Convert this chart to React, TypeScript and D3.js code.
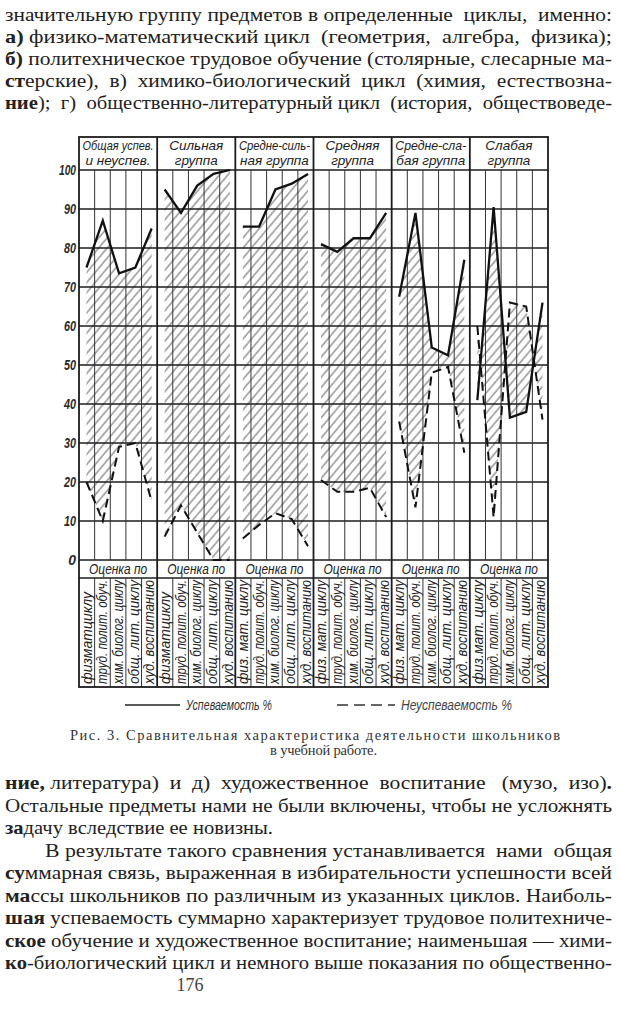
import React, { useLayoutEffect, useRef } from "react";
import * as d3 from "d3";

// ---------- DATA ----------
const groupTitles: string[][] = [
  ["Общая успев.", "и неуспев."],
  ["Сильная", "группа"],
  ["Средне-силь-", "ная группа"],
  ["Средняя", "группа"],
  ["Средне-сла-", "бая группа"],
  ["Слабая", "группа"],
];
const firstSubject = ["физматциклу", "физматциклу", "физ. мат. циклу", "физ. мат. циклу", "физ. мат. циклу", "физ.мат. циклу"];
const otherSubjects = ["труд. полит. обуч.", "хим. биолог. циклу", "общ. лит. циклу", "худ. воспитанию"];
const subgroupLabel = "Оценка по";

// Успеваемость % (solid)
const successG1 = [75, 87, 73.5, 75, 85];
const successG2 = [95, 89, 96, 99, 100];
const successG3 = [85.5, 85.5, 95, 96.5, 99];
const successG4 = [81, 79, 82.5, 82.5, 89];
const successG5 = [67.5, 89, 54.5, 52.5, 77];
const successG6 = [41, 90.5, 36.5, 38, 66];
// Неуспеваемость % (dashed)
const failureG1 = [20, 10, 29, 30, 15];
const failureG2 = [6, 14, 7, 0, 0];
const failureG3 = [5.5, 9, 12, 10.5, 3.5];
const failureG4 = [20.5, 17.5, 17.5, 18.5, 11];
const failureG5 = [35.5, 13.5, 48, 49.5, 27.5];
const failureG6 = [60, 11, 66, 65, 36];

const success = [successG1, successG2, successG3, successG4, successG5, successG6];
const failure = [failureG1, failureG2, failureG3, failureG4, failureG5, failureG6];

const yTicks = [0, 10, 20, 30, 40, 50, 60, 70, 80, 90, 100];
const legendSuccess = "Успеваемость %";
const legendFailure = "Неуспеваемость %";
const captionLine1 = "Рис. 3. Сравнительная характеристика деятельности школьников";
const captionLine2 = "в учебной работе.";

const textTop = [
  "значительную группу предметов в определенные  циклы,  именно:",
  "**а)** физико-математический цикл  (геометрия,  алгебра,  физика);",
  "**б)** политехническое трудовое обучение (столярные, слесарные ма-",
  "**ст**ерские),  в)  химико-биологический  цикл  (химия,  естествозна-",
  "**ние**);  г)  общественно-литературный цикл  (история,  обществоведе-",
];
const textBottom = [
  "**ние,** литература)  и  д)  художественное  воспитание   (музо,  изо)**.**",
  "Остальные предметы нами не были включены, чтобы не усложнять",
  "**за**дачу вследствие ее новизны.",
  "В результате такого сравнения устанавливается  нами  общая",
  "**су**ммарная связь, выраженная в избирательности успешности всей",
  "**ма**ссы школьников по различным из указанных циклов. Наиболь-",
  "**шая** успеваемость суммарно характеризует трудовое политехниче-",
  "**ское** обучение и художественное воспитание; наименьшая — хими-",
  "**ко**-биологический цикл и немного выше показания по общественно-",
];
const pageNumber = "176";

// ---------- LAYOUT ----------
const W = 620;
const H = 1011;
const L = 79, R = 548;
const headerTop = 137, plotTop = 170, plotBottom = 560, ocenkaBottom = 578, boxBottom = 687;
const ink = "#1c1c1c";
const serif = "'Liberation Serif','DejaVu Serif',serif";
const sans = "'Liberation Sans','Roboto',sans-serif";

function parseBold(s: string) {
  const out: { t: string; b: boolean }[] = [];
  const re = /\*\*(.+?)\*\*/g;
  let last = 0;
  let m: RegExpExecArray | null;
  while ((m = re.exec(s))) {
    if (m.index > last) out.push({ t: s.slice(last, m.index), b: false });
    out.push({ t: m[1], b: true });
    last = m.index + m[0].length;
  }
  if (last < s.length) out.push({ t: s.slice(last), b: false });
  return out;
}

function TextLine({ x, y, s, width, size = 19 }: { x: number; y: number; s: string; width?: number; size?: number }) {
  const parts = parseBold(s);
  return (
    <text
      x={x}
      y={y}
      fontFamily={serif}
      fontSize={size}
      fill="#222"
      textLength={width}
      lengthAdjust={width ? "spacingAndGlyphs" : undefined}
      style={{ whiteSpace: "pre" }}
    >
      {parts.map((p, i) => (
        <tspan key={i} fontWeight={p.b ? 700 : 400}>
          {p.t}
        </tspan>
      ))}
    </text>
  );
}

export default function App() {
  const ref = useRef<SVGSVGElement>(null);

  // Compress italic lettering that would be wider than the reference's narrow type
  useLayoutEffect(() => {
    const svg = ref.current;
    if (!svg) return;
    svg.querySelectorAll<SVGTextElement>("text[data-maxw]").forEach((el) => {
      const maxw = +(el.getAttribute("data-maxw") || 0);
      const w = el.getComputedTextLength();
      if (w > maxw) {
        el.setAttribute("textLength", String(maxw));
        el.setAttribute("lengthAdjust", "spacingAndGlyphs");
      }
    });
  }, []);

  const y = d3.scaleLinear().domain([0, 100]).range([plotBottom, plotTop]);
  const gx = d3.scaleBand<number>().domain(d3.range(6)).range([L, R]);
  const bw = gx.bandwidth();
  const cx = d3.scaleBand<number>().domain(d3.range(5)).range([0, bw]);
  const px = d3.scalePoint<number>().domain(d3.range(5)).range([7.5, bw - 5.5]);

  const line = (g: number) =>
    d3
      .line<number>()
      .x((_, i) => (gx(g) as number) + (px(i) as number))
      .y((v) => y(v));
  const area = (g: number) =>
    d3
      .area<number>()
      .x((_, i) => (gx(g) as number) + (px(i) as number))
      .y0((_, i) => y(failure[g][i]))
      .y1((v) => y(v));

  const topBaselines = textTop.map((_, i) => 21 + i * 22);
  const bottomBaselines = textBottom.map((_, i) => 789 + i * 22.5);
  const justified = [true, true, false, true, true, true, true, true, true];

  return (
    <svg
      ref={ref}
      width={W}
      height={H}
      viewBox={`0 0 ${W} ${H}`}
      style={{ position: "absolute", left: 0, top: 0, display: "block", background: "#fff" }}
    >
      <defs>
        <pattern id="hatch" patternUnits="userSpaceOnUse" width={6.5} height={10} patternTransform="rotate(40)">
          <line x1={1} y1={0} x2={1} y2={10} stroke="#4a4a4a" strokeWidth={0.9} />
        </pattern>
      </defs>
      <rect x={0} y={0} width={W} height={H} fill="#fff" />

      {/* top text */}
      {textTop.map((s, i) => (
        <TextLine key={i} x={5} y={topBaselines[i]} s={s} width={607} />
      ))}

      {/* hatched areas */}
      {success.map((vals, g) => (
        <path key={"a" + g} d={area(g)(vals) as string} fill="url(#hatch)" stroke="none" />
      ))}

      {/* grid: horizontal */}
      {yTicks.map((t) => (
        <line key={"h" + t} x1={L} x2={R} y1={y(t)} y2={y(t)} stroke={ink} strokeWidth={t === 0 || t === 100 ? 1.7 : 1.3} />
      ))}
      <line x1={L} x2={R} y1={ocenkaBottom} y2={ocenkaBottom} stroke={ink} strokeWidth={1.3} />

      {/* grid: column lines */}
      {d3.range(6).map((g) =>
        d3.range(1, 5).map((c) => {
          const x = (gx(g) as number) + (cx(c) as number);
          return (
            <g key={"c" + g + "-" + c}>
              <line x1={x} x2={x} y1={plotTop} y2={plotBottom} stroke="#333" strokeWidth={1} />
              <line x1={x} x2={x} y1={ocenkaBottom} y2={boxBottom} stroke="#333" strokeWidth={1} />
            </g>
          );
        })
      )}
      {/* group dividers */}
      {d3.range(1, 6).map((g) => {
        const x = gx(g) as number;
        return <line key={"g" + g} x1={x} x2={x} y1={headerTop} y2={boxBottom} stroke={ink} strokeWidth={1.8} />;
      })}
      <rect x={L} y={headerTop} width={R - L} height={boxBottom - headerTop} fill="none" stroke={ink} strokeWidth={1.8} />

      {/* y labels */}
      {yTicks.map((t) => (
        <text
          key={"yl" + t}
          x={76}
          y={y(t)}
          dy="0.36em"
          textAnchor="end"
          fontFamily={sans}
          fontStyle="italic"
          fontWeight={700}
          fontSize={14}
          fill="#2a2a2a"
          data-maxw={t === 100 ? 17 : 12}
        >
          {t}
        </text>
      ))}

      {/* headers */}
      {groupTitles.map((lines, g) => (
        <g key={"ht" + g}>
          {lines.map((s, k) => (
            <text
              key={k}
              x={(gx(g) as number) + bw / 2}
              y={150 + k * 15}
              textAnchor="middle"
              fontFamily={sans}
              fontStyle="italic"
              fontSize={13.5}
              fill="#222"
              data-maxw={71}
            >
              {s}
            </text>
          ))}
        </g>
      ))}

      {/* "Оценка по" */}
      {d3.range(6).map((g) => (
        <text
          key={"oc" + g}
          x={(gx(g) as number) + bw / 2}
          y={574}
          textAnchor="middle"
          fontFamily={sans}
          fontStyle="italic"
          fontSize={14}
          fill="#222"
          data-maxw={58}
        >
          {subgroupLabel}
        </text>
      ))}

      {/* rotated subject labels */}
      {d3.range(6).map((g) =>
        [firstSubject[g], ...otherSubjects].map((s, c) => {
          const x = (gx(g) as number) + (cx(c) as number) + cx.bandwidth() / 2 + 5;
          return (
            <text
              key={"sl" + g + "-" + c}
              transform={`translate(${x},${boxBottom - 3}) rotate(-90)`}
              fontFamily={sans}
              fontStyle="italic"
              fontSize={14}
              fill="#222"
              data-maxw={104}
            >
              {s}
            </text>
          );
        })
      )}

      {/* lines */}
      {failure.map((vals, g) => (
        <path key={"f" + g} d={line(g)(vals) as string} fill="none" stroke="#111" strokeWidth={2} strokeDasharray="9 5" />
      ))}
      {success.map((vals, g) => (
        <path key={"s" + g} d={line(g)(vals) as string} fill="none" stroke="#111" strokeWidth={2.3} strokeLinejoin="miter" />
      ))}

      {/* legend */}
      <line x1={125} x2={180} y1={705} y2={705} stroke="#222" strokeWidth={1.6} />
      <text x={186} y={710} fontFamily={sans} fontStyle="italic" fontSize={15} fill="#333" data-maxw={86}>
        {legendSuccess}
      </text>
      <line x1={337} x2={395} y1={705} y2={705} stroke="#333" strokeWidth={1.6} strokeDasharray="11 6" />
      <text x={401} y={710} fontFamily={sans} fontStyle="italic" fontSize={15} fill="#444" data-maxw={111}>
        {legendFailure}
      </text>

      {/* caption */}
      <text x={70} y={740} fontFamily={serif} fontSize={14.5} fill="#333" textLength={490} lengthAdjust="spacing">
        {captionLine1}
      </text>
      <text x={270} y={755} fontFamily={serif} fontSize={14.5} fill="#333" textLength={107} lengthAdjust="spacing">
        {captionLine2}
      </text>

      {/* bottom text */}
      {textBottom.map((s, i) => (
        <TextLine
          key={"b" + i}
          x={i === 3 ? 45 : 5}
          y={bottomBaselines[i]}
          s={s}
          width={justified[i] ? (i === 3 ? 567 : 607) : 268}
        />
      ))}

      <text x={190} y={991} textAnchor="middle" fontFamily={serif} fontSize={18} fill="#444">
        {pageNumber}
      </text>
    </svg>
  );
}
